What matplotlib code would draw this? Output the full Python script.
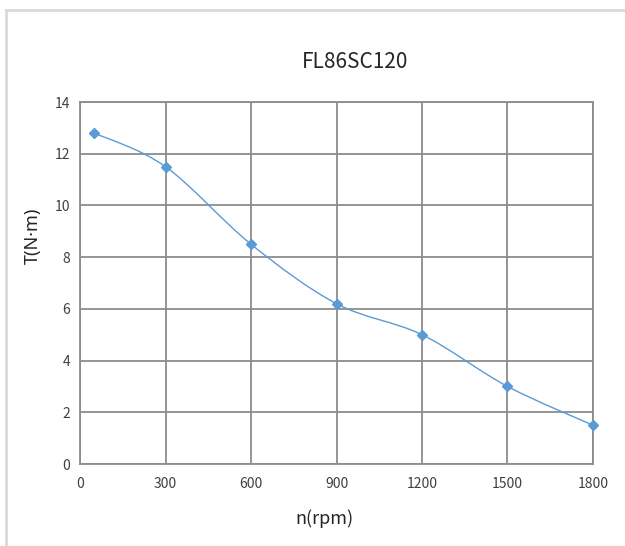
import matplotlib
matplotlib.use("Agg")
import matplotlib.pyplot as plt
from matplotlib.path import Path
from matplotlib.patches import PathPatch
from matplotlib.lines import Line2D

plt.rcParams['font.family'] = ['Noto Sans CJK SC', 'DejaVu Sans']
plt.rcParams['font.weight'] = 'light'

speed = [50, 300, 600, 900, 1200, 1500, 1800]
torque = [12.8, 11.5, 8.5, 6.2, 5.0, 3.0, 1.5]
x_ticks = [0, 300, 600, 900, 1200, 1500, 1800]
y_ticks = [0, 2, 4, 6, 8, 10, 12, 14]

line_color = "#5b9bd5"
grid_color = "#8c8c8c"
text_color = "#404040"


def smooth_path(xs, ys, t=1 / 6):
    # Excel-like smoothed line: cubic bezier through the points
    verts = [(xs[0], ys[0])]
    codes = [Path.MOVETO]
    n = len(xs)
    for i in range(n - 1):
        x0, y0 = (xs[i - 1], ys[i - 1]) if i > 0 else (xs[i], ys[i])
        x1, y1 = xs[i], ys[i]
        x2, y2 = xs[i + 1], ys[i + 1]
        x3, y3 = (xs[i + 2], ys[i + 2]) if i + 2 < n else (x2, y2)
        c1 = (x1 + (x2 - x0) * t, y1 + (y2 - y0) * t)
        c2 = (x2 - (x3 - x1) * t, y2 - (y3 - y1) * t)
        verts += [c1, c2, (x2, y2)]
        codes += [Path.CURVE4] * 3
    return Path(verts, codes)


fig = plt.figure(figsize=(6.25, 5.46), dpi=100)
ax = fig.add_axes([80 / 625, 82 / 546, 513 / 625, 362 / 546])

ax.add_patch(PathPatch(smooth_path(speed, torque), facecolor="none",
                       edgecolor=line_color, linewidth=1.0, zorder=3))
ax.plot(speed, torque, linestyle="none", marker="D", markersize=5,
        color=line_color, zorder=4, clip_on=False)

ax.set_xlim(0, 1800)
ax.set_ylim(0, 14)
ax.set_xticks(x_ticks)
ax.set_yticks(y_ticks)
ax.tick_params(length=0, labelsize=10, colors=text_color)
ax.tick_params(axis="x", pad=9)
ax.tick_params(axis="y", pad=7)
ax.grid(True, color=grid_color, linewidth=1.3)
ax.set_axisbelow(True)
for s in ax.spines.values():
    s.set_color(grid_color)
    s.set_linewidth(1.3)

fig.text(355 / 625, 1 - 62 / 546, "FL86SC120", ha="center", va="center",
         fontsize=15, color="#262626")
fig.text(324 / 625, 1 - 519 / 546, "n(rpm)", ha="center", va="center",
         fontsize=13, color="#262626")
fig.text(33 / 625, 1 - 236 / 546, "T(N·m)", ha="center", va="center",
         rotation=90, fontsize=13, color="#262626",
         family=['Noto Sans', 'DejaVu Sans'])

# outer chart frame
fig.add_artist(Line2D([6 / 625, 1], [1 - 10 / 546, 1 - 10 / 546],
                      color="#d9d9d9", linewidth=2, transform=fig.transFigure))
fig.add_artist(Line2D([6 / 625, 6 / 625], [0, 1 - 10 / 546],
                      color="#d9d9d9", linewidth=2, transform=fig.transFigure))

fig.savefig("out.png", dpi=100)
